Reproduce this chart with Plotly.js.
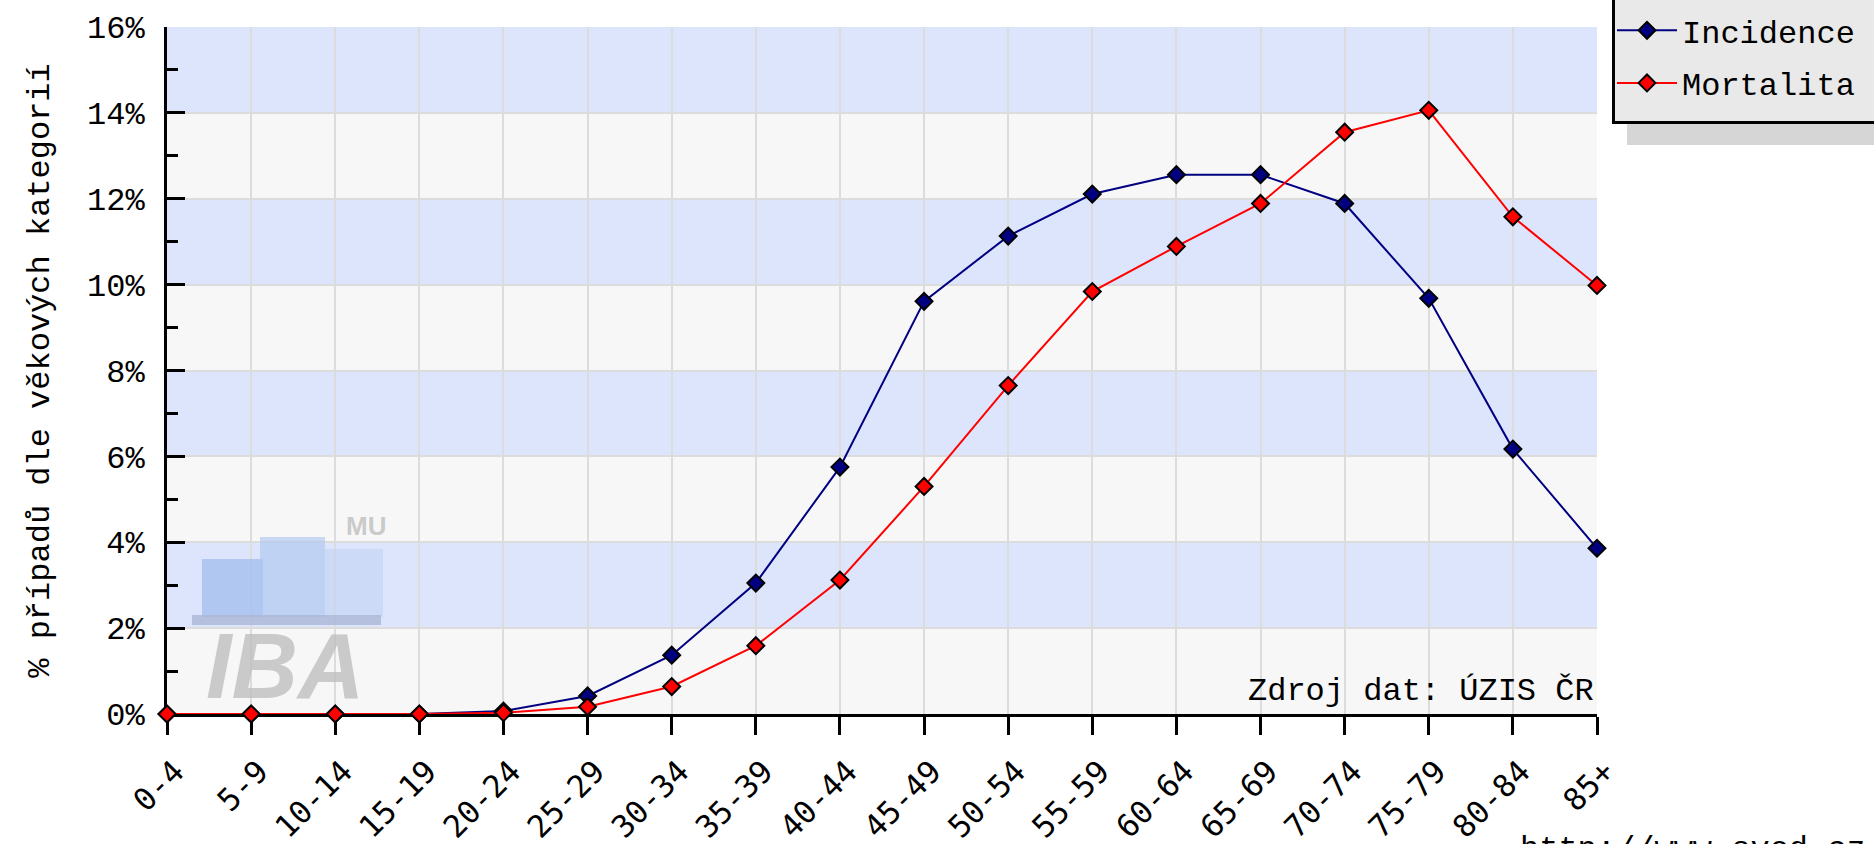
<!DOCTYPE html>
<html>
<head>
<meta charset="utf-8">
<script src="https://cdn.plot.ly/plotly-3.0.1.min.js"></script>
<style>
html,body{margin:0;padding:0;background:#fff;}
#chart{width:1874px;height:844px;}
</style>
</head>
<body>
<div id="chart"></div>
<script>
// ---- data ----
const categories = ['0-4','5-9','10-14','15-19','20-24','25-29','30-34','35-39','40-44','45-49','50-54','55-59','60-64','65-69','70-74','75-79','80-84','85+'];
const incidence = [0,0,0,0,0.07,0.42,1.37,3.05,5.75,9.61,11.13,12.11,12.56,12.56,11.89,9.68,6.17,3.86];
const mortalita = [0,0,0,0,0.03,0.17,0.64,1.59,3.12,5.30,7.65,9.84,10.89,11.89,13.55,14.06,11.58,9.98];
const seriesNames = ['Incidence','Mortalita'];
const yTicks = [0,2,4,6,8,10,12,14,16];
const yTitle = '% případů dle věkových kategorií';
const sourceText = 'Zdroj dat: ÚZIS ČR';
const urlText = 'http://www.svod.cz';

// ---- layout geometry (pixels) ----
const W = 1874, H = 844;
const L = 167, R = 1597, T = 27, B = 714;
const pw = R - L, ph = B - T;
const px = x => (x - L) / pw;
const py = y => (B - y) / ph;

const MONO = 'Liberation Mono, DejaVu Sans Mono, monospace';

const shapes = [];
// alternating bands
for (let i = 1; i < yTicks.length - 1; i += 2) {
  shapes.push({type:'rect', xref:'paper', yref:'y', x0:0, x1:1, y0:yTicks[i], y1:yTicks[i+1],
    fillcolor:'#dde5fc', line:{width:0}, layer:'below'});
}
// legend shadow
shapes.push({type:'rect', xref:'paper', yref:'paper', x0:px(1627), x1:px(1890), y0:py(145), y1:py(124),
  fillcolor:'#d6d6d6', line:{width:0}, layer:'above'});
// legend box
shapes.push({type:'rect', xref:'paper', yref:'paper', x0:px(1613.5), x1:px(1890), y0:py(122.5), y1:py(-20),
  fillcolor:'#e9e9e9', line:{width:3, color:'#000'}, layer:'above'});
// logo (watermark) bars
const logoBars = [
  {x0:202, x1:263, y0:559, c:'rgba(160,190,238,0.75)'},
  {x0:260, x1:325, y0:537, c:'rgba(175,200,240,0.65)'},
  {x0:317, x1:383, y0:549, c:'rgba(190,210,244,0.55)'}
];
logoBars.forEach(b => shapes.push({type:'rect', xref:'paper', yref:'paper', x0:px(b.x0), x1:px(b.x1), y0:py(617), y1:py(b.y0),
  fillcolor:b.c, line:{width:0}, layer:'above'}));
shapes.push({type:'rect', xref:'paper', yref:'paper', x0:px(192), x1:px(381), y0:py(625), y1:py(615),
  fillcolor:'rgba(170,182,212,0.8)', line:{width:0}, layer:'above'});

const annotations = [
  {text:sourceText, xref:'paper', yref:'paper', x:1, y:0, xanchor:'right', yanchor:'bottom', xshift:-1, yshift:2,
   showarrow:false, font:{family:MONO, size:32, color:'#000'}},
  {text:urlText, xref:'paper', yref:'paper', x:px(1518), y:py(829), xanchor:'left', yanchor:'top',
   showarrow:false, font:{family:MONO, size:32, color:'#000'}},
  {text:'<b><i>IBA</i></b>', xref:'paper', yref:'paper', x:px(285), y:py(666), xanchor:'center', yanchor:'middle',
   showarrow:false, font:{family:'Liberation Sans, Arial, sans-serif', size:92, color:'rgba(190,190,190,0.8)'}},
  {text:'<b>MU</b>', xref:'paper', yref:'paper', x:px(366), y:py(526), xanchor:'center', yanchor:'middle',
   showarrow:false, font:{family:'Liberation Sans, Arial, sans-serif', size:26, color:'rgba(190,190,190,0.8)'}}
];

const traces = [
  {x:categories, y:incidence, name:seriesNames[0], type:'scatter', mode:'lines+markers', legendgroup:'a',
   line:{color:'#000080', width:2}, marker:{symbol:'diamond', size:13, color:'#000080', line:{color:'#000', width:2}},
   cliponaxis:false},
  {x:categories, y:mortalita, name:seriesNames[1], type:'scatter', mode:'lines+markers', legendgroup:'b',
   line:{color:'#ff0000', width:2}, marker:{symbol:'diamond', size:13, color:'#ff0000', line:{color:'#000', width:2}},
   cliponaxis:false}
];

const layout = {
  width:W, height:H,
  margin:{l:L, r:W-R, t:T, b:H-B, pad:0, autoexpand:false},
  paper_bgcolor:'#ffffff', plot_bgcolor:'#f7f7f7',
  showlegend:true,
  legend:{x:px(1612), xanchor:'left', y:py(3), yanchor:'top', bgcolor:'rgba(0,0,0,0)', borderwidth:0,
    font:{family:MONO, size:32, color:'#000'}, traceorder:'grouped', tracegroupgap:8, itemwidth:60},
  xaxis:{type:'category', range:[0, categories.length-1], showgrid:true, gridcolor:'#dcdcdc', gridwidth:2,
    showline:true, linecolor:'#000', linewidth:3, ticks:'outside', ticklen:18, tickwidth:3, tickcolor:'#000',
    tickangle:-45, ticklabelstandoff:6, ticklabelshift:8, tickfont:{family:'DejaVu Sans Mono, monospace', size:31, color:'#000'},
    zeroline:false, layer:'below traces', fixedrange:true, automargin:false},
  yaxis:{range:[0,16], tickvals:yTicks, ticktext:yTicks.map(v=>v+'%'), showgrid:true, gridcolor:'#dcdcdc', gridwidth:2,
    showline:true, linecolor:'#000', linewidth:3, ticks:'inside', ticklen:18, tickwidth:3, tickcolor:'#000',
    minor:{dtick:1, tick0:0, ticks:'inside', ticklen:11, tickwidth:3, tickcolor:'#000', showgrid:false},
    ticklabelstandoff:13, tickfont:{family:MONO, size:32, color:'#000'},
    title:{text:yTitle, font:{family:MONO, size:32, color:'#000'}, standoff:28},
    zeroline:false, layer:'below traces', fixedrange:true, automargin:false},
  shapes:shapes,
  annotations:annotations
};

Plotly.newPlot('chart', traces, layout, {displayModeBar:false, staticPlot:true});
</script>
</body>
</html>
